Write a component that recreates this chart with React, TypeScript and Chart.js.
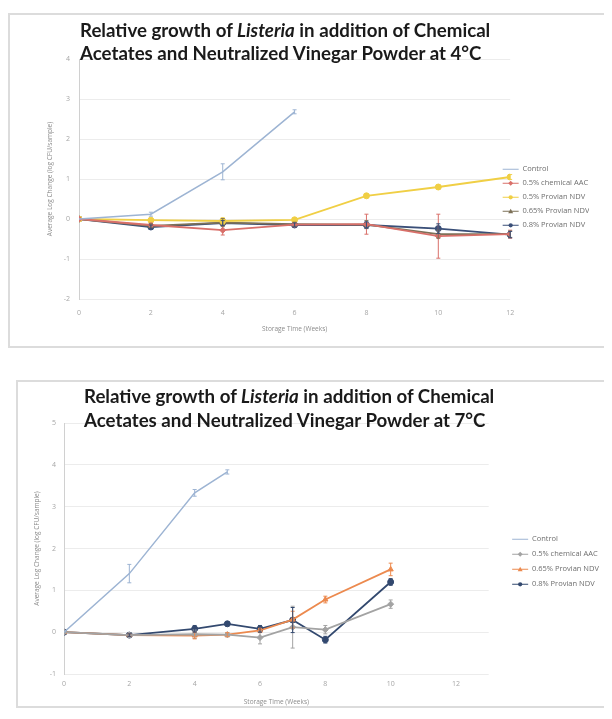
import React, { useEffect, useRef } from 'react';
import { Chart, registerables } from 'chart.js';
Chart.register(...registerables);

// ---------- 4°C chart data ----------
const weeks4 = [0, 2, 4, 6, 8, 10, 12];
const control4 = [0, 0.12, 1.18, 2.68];
const chem4 = [0, -0.15, -0.28, -0.14, -0.13, -0.43, -0.38];
const ndv05_4 = [0, -0.03, -0.05, -0.02, 0.58, 0.8, 1.05];
const ndv065_4 = [0, -0.17, -0.09, -0.13, -0.14, -0.38, -0.38];
const ndv08_4 = [0, -0.2, -0.1, -0.15, -0.15, -0.24, -0.39];
const control4Err = [0, 0.05, 0.2, 0.05];
const chem4Err = [0, 0.05, 0.12, 0.05, 0.25, 0.55, 0.1];
const ndv05_4Err = [0, 0.04, 0.08, 0.05, 0.05, 0.05, 0.06];
const ndv065_4Err = [0, 0.05, 0.1, 0.05, 0.1, 0.1, 0.08];
const ndv08_4Err = [0, 0.05, 0.06, 0.05, 0.08, 0.12, 0.08];

// ---------- 7°C chart data ----------
const weeks7 = [0, 2, 4, 5, 6, 7, 8, 10];
const control7 = [0, 1.4, 3.33, 3.83];
const chem7 = [0, -0.07, -0.05, -0.06, -0.13, 0.12, 0.06, 0.67];
const ndv065_7 = [0, -0.07, -0.08, -0.06, 0.04, 0.3, 0.78, 1.5];
const ndv08_7 = [0, -0.07, 0.08, 0.2, 0.08, 0.29, -0.18, 1.2];
const control7Err = [0, 0.22, 0.08, 0.05];
const chem7Err = [0, 0.05, 0.1, 0.05, 0.15, 0.5, 0.1, 0.1];
const ndv065_7Err = [0, 0.03, 0.08, 0.05, 0.05, 0.2, 0.08, 0.15];
const ndv08_7Err = [0, 0.03, 0.08, 0.05, 0.08, 0.3, 0.08, 0.08];

const seriesLabels = {
  control: 'Control',
  chem: '0.5% chemical AAC',
  ndv05: '0.5% Provian NDV',
  ndv065: '0.65% Provian NDV',
  ndv08: '0.8% Provian NDV',
};

const xTitle = 'Storage Time (Weeks)';
const yTitle = 'Average Log Change (log CFU/sample)';

const zip = (xs: number[], ys: number[]) => ys.map((y, i) => ({ x: xs[i], y }));

function drawMarker(ctx: CanvasRenderingContext2D, style: string, x: number, y: number, r: number) {
  ctx.beginPath();
  if (style === 'rectRot') {
    ctx.moveTo(x, y - r);
    ctx.lineTo(x + r, y);
    ctx.lineTo(x, y + r);
    ctx.lineTo(x - r, y);
    ctx.closePath();
  } else if (style === 'triangle') {
    ctx.moveTo(x, y - r);
    ctx.lineTo(x + r, y + r * 0.8);
    ctx.lineTo(x - r, y + r * 0.8);
    ctx.closePath();
  } else {
    ctx.arc(x, y, r * 0.85, 0, Math.PI * 2);
  }
  ctx.fill();
}

const errorBarPlugin = {
  id: 'errorBars',
  afterDatasetsDraw(chart: any) {
    const ctx = chart.ctx;
    const xs = chart.scales.x;
    const ys = chart.scales.y;
    chart.data.datasets.forEach((ds: any) => {
      const errs: number[] | undefined = ds.errors;
      if (!errs) return;
      ctx.save();
      ctx.strokeStyle = ds.borderColor;
      ctx.lineWidth = 1;
      ds.data.forEach((pt: any, j: number) => {
        const e = errs[j];
        if (!e) return;
        const px = xs.getPixelForValue(pt.x);
        const y1 = ys.getPixelForValue(pt.y + e);
        const y2 = ys.getPixelForValue(pt.y - e);
        ctx.beginPath();
        ctx.moveTo(px, y1);
        ctx.lineTo(px, y2);
        ctx.moveTo(px - 2, y1);
        ctx.lineTo(px + 2, y1);
        ctx.moveTo(px - 2, y2);
        ctx.lineTo(px + 2, y2);
        ctx.stroke();
      });
      ctx.restore();
    });
  },
  afterDraw(chart: any) {
    const legend = chart.legend;
    if (!legend || !legend.legendHitBoxes) return;
    const ctx = chart.ctx;
    ctx.save();
    legend.legendItems.forEach((item: any, i: number) => {
      const ds = chart.data.datasets[item.datasetIndex];
      const box = legend.legendHitBoxes[i];
      if (!ds || !box || !ds.pointRadius) return;
      ctx.fillStyle = ds.borderColor;
      drawMarker(ctx, ds.pointStyle, box.left + 8, box.top + box.height / 2, 2.5);
    });
    ctx.restore();
  },
};

function series(label: string, xs: number[], ys: number[], errs: number[], color: string, style: any, radius: number, width = 1.8) {
  return {
    label,
    data: zip(xs, ys),
    errors: errs,
    borderColor: color,
    backgroundColor: color,
    borderWidth: width,
    pointStyle: style,
    pointRadius: radius,
    pointBorderWidth: 1,
    tension: 0,
  };
}

interface Geo {
  padLeft: number;
  padTop: number;
  padBottom: number;
  padRight: number;
  yWidth: number;
  xHeight: number;
  gap: number;
  xTickPad: number;
  yTickPad: number;
  legendTitleH: number;
  legendPad: number;
}

function makeOptions(yMin: number, yMax: number, xMax: number, g: Geo) {
  return {
    responsive: false,
    animation: false,
    devicePixelRatio: 1,
    layout: { padding: { left: g.padLeft, top: g.padTop, right: g.padRight, bottom: g.padBottom } },
    plugins: {
      tooltip: { enabled: false },
      title: { display: false },
      legend: {
        position: 'right',
        align: 'start',
        title: { display: true, text: '', font: { size: 1, lineHeight: 1 }, padding: { top: g.legendTitleH, bottom: 0 } },
        labels: {
          usePointStyle: true,
          pointStyle: 'line',
          pointStyleWidth: 16,
          boxHeight: 7,
          padding: g.legendPad,
          color: '#6e6e6e',
          font: { family: 'Open Sans', size: 7.5 },
        },
      },
    },
    scales: {
      x: {
        type: 'linear',
        min: 0,
        max: xMax,
        afterFit: (s: any) => { s.height = g.xHeight; },
        afterBuildTicks: (s: any) => { s.ticks = s.ticks.filter((t: any) => t.value % 2 === 0); },
        ticks: { stepSize: 2, padding: g.xTickPad, color: '#a6a6a6', font: { family: 'Open Sans', size: 7 } },
        grid: { display: false, drawTicks: false },
        border: { display: false },
        title: { display: true, text: xTitle, color: '#8c8c8c', font: { family: 'Open Sans', size: 6.5 }, padding: 0 },
      },
      y: {
        min: yMin,
        max: yMax,
        afterFit: (s: any) => { s.width = g.yWidth; },
        ticks: { stepSize: 1, padding: g.yTickPad, color: '#a6a6a6', font: { family: 'Open Sans', size: 7 } },
        grid: { color: '#ececec', drawTicks: false },
        border: { display: true, color: '#d0d0d0' },
        title: { display: true, text: yTitle, color: '#8c8c8c', font: { family: 'Open Sans', size: 6.5 }, padding: 0 },
      },
      gap: {
        position: 'right',
        display: true,
        min: yMin,
        max: yMax,
        afterFit: (s: any) => { s.width = g.gap; },
        ticks: { display: false },
        grid: { display: false, drawTicks: false },
        border: { display: false },
      },
    },
  };
}

function ChartCanvas({ config, width, height }: any) {
  const ref = useRef<HTMLCanvasElement>(null);
  useEffect(() => {
    if (!ref.current) return;
    const chart = new Chart(ref.current, config);
    return () => chart.destroy();
  }, []);
  return <canvas ref={ref} width={width} height={height} style={{ display: 'block', width, height }} />;
}

const titleStyle: React.CSSProperties = {
  position: 'absolute',
  fontFamily: 'Lato, "Open Sans", sans-serif',
  fontWeight: 700,
  fontSize: 18.7,
  color: '#1a1a1a',
  whiteSpace: 'nowrap',
  pointerEvents: 'none',
};

export default function App() {
  const config4 = {
    type: 'line',
    data: {
      datasets: [
        series(seriesLabels.control, weeks4, control4, control4Err, '#9db4d3', 'circle', 0, 1.5),
        series(seriesLabels.chem, weeks4, chem4, chem4Err, '#d9706a', 'rectRot', 3),
        series(seriesLabels.ndv05, weeks4, ndv05_4, ndv05_4Err, '#f0cf45', 'circle', 3),
        series(seriesLabels.ndv065, weeks4, ndv065_4, ndv065_4Err, '#7d7158', 'triangle', 3),
        series(seriesLabels.ndv08, weeks4, ndv08_4, ndv08_4Err, '#3a4f78', 'circle', 3),
      ],
    },
    options: makeOptions(-2, 4, 12, {
      padLeft: 36, padTop: 44, padBottom: 13, padRight: 3, yWidth: 33, xHeight: 34, gap: -14,
      xTickPad: 10, yTickPad: 9, legendTitleH: 99, legendPad: 6.5,
    }),
    plugins: [errorBarPlugin],
  };

  const config7 = {
    type: 'line',
    data: {
      datasets: [
        series(seriesLabels.control, weeks7, control7, control7Err, '#9db4d3', 'circle', 0, 1.5),
        series(seriesLabels.chem, weeks7, chem7, chem7Err, '#a3a3a3', 'rectRot', 3),
        series(seriesLabels.ndv065, weeks7, ndv065_7, ndv065_7Err, '#ec8a4f', 'triangle', 3),
        series(seriesLabels.ndv08, weeks7, ndv08_7, ndv08_7Err, '#33496f', 'circle', 3),
      ],
    },
    options: makeOptions(-1, 5, 13, {
      padLeft: 15, padTop: 41, padBottom: 0, padRight: 13, yWidth: 31, xHeight: 32, gap: 16,
      xTickPad: 6, yTickPad: 8, legendTitleH: 104, legendPad: 7.5,
    }),
    plugins: [errorBarPlugin],
  };

  return (
    <div style={{ position: 'relative', width: 604, height: 711, overflow: 'hidden' }}>
      <div style={{ position: 'absolute', left: 0, top: 5, width: 600, height: 335, border: '2px solid #dcdcdc', boxSizing: 'border-box', background: '#fff' }}>
        <ChartCanvas config={config4} width={596} height={331} />
        <div style={{ ...titleStyle, left: 70, top: 4, lineHeight: '23px' }}>
          <div>Relative growth of <i>Listeria</i> in addition of Chemical</div>
          <div>Acetates and Neutralized Vinegar Powder at 4°C</div>
        </div>
      </div>
      <div style={{ position: 'absolute', left: 8, top: 372, width: 598, height: 328, border: '2px solid #dcdcdc', boxSizing: 'border-box', background: '#fff' }}>
        <ChartCanvas config={config7} width={594} height={324} />
        <div style={{ ...titleStyle, left: 66, top: 2, lineHeight: '24px' }}>
          <div>Relative growth of <i>Listeria</i> in addition of Chemical</div>
          <div>Acetates and Neutralized Vinegar Powder at 7°C</div>
        </div>
      </div>
    </div>
  );
}
